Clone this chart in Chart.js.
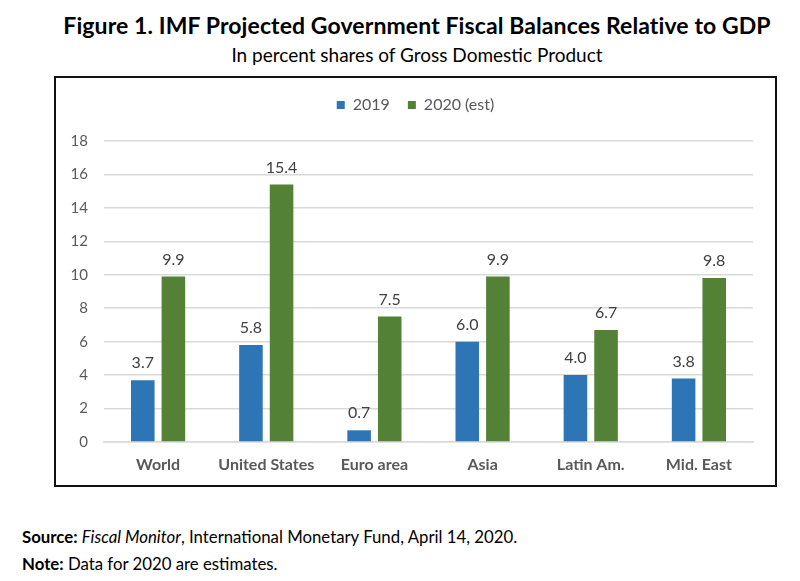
<!DOCTYPE html>
<html>
<head>
<meta charset="utf-8">
<script src="https://cdn.jsdelivr.net/npm/chart.js@4"></script>
<style>
body{margin:0;background:#fff;width:800px;height:581px;position:relative;overflow:hidden;font-family:Lato,sans-serif;color:#000;}
#title{position:absolute;left:0;width:834px;top:11px;text-align:center;font-size:23px;font-weight:bold;letter-spacing:0.1px;}
#sub{position:absolute;left:0;width:834px;top:43px;text-align:center;font-size:19px;}
#box{position:absolute;left:54px;top:76px;width:719px;height:407px;border:2px solid #111;}
#box canvas{position:absolute;left:0;top:0;}
.note{position:absolute;left:22px;font-size:16.8px;}
</style>
</head>
<body>
<div id="title">Figure 1. IMF Projected Government Fiscal Balances Relative to GDP</div>
<div id="sub">In percent shares of Gross Domestic Product</div>
<div id="box"><canvas id="c" width="719" height="407"></canvas></div>
<div class="note" style="top:526px"><b>Source:</b> <i>Fiscal Monitor</i>, International Monetary Fund, April 14, 2020.</div>
<div class="note" style="top:553px"><b>Note:</b> Data for 2020 are estimates.</div>
<script>
// DATA
const regions=["World","United States","Euro area","Asia","Latin Am.","Mid. East"];
const vals2019=[3.7,5.8,0.7,6.0,4.0,3.8];
const vals2020=[9.9,15.4,7.5,9.9,6.7,9.8];
const yTicks=[0,2,4,6,8,10,12,14,16,18];

// value labels above bars
const barLabels={
id:"barLabels",
afterDatasetsDraw(chart){
const ctx=chart.ctx;
ctx.save();
ctx.font="16px Lato";
ctx.fillStyle="#404040";
ctx.textAlign="center";
ctx.textBaseline="middle";
chart.data.datasets.forEach((ds,i)=>{
chart.getDatasetMeta(i).data.forEach((bar,j)=>{
ctx.fillText(ds.data[j].toFixed(1),bar.x,bar.y-17);
});
});
ctx.restore();
}
};

// extra room under legend
const legendGap={
id:"legendGap",
beforeInit(chart){
const fit=chart.legend.fit;
chart.legend.fit=function(){fit.bind(chart.legend)();this.height+=18;};
}
};

new Chart(document.getElementById("c"),{
type:"bar",
data:{
labels:regions,
datasets:[
{label:"2019",data:vals2019,backgroundColor:"#2e75b6"},
{label:"2020 (est)",data:vals2020,backgroundColor:"#538135"}
]
},
options:{
responsive:false,
animation:false,
categoryPercentage:0.566,
barPercentage:0.77,
layout:{padding:{top:1,right:0,left:0,bottom:0}},
plugins:{
legend:{
labels:{boxWidth:8,boxHeight:8,padding:18,color:"#595959",font:{family:"Lato",size:16}}
},
tooltip:{enabled:false}
},
scales:{
x:{
grid:{display:false},
border:{color:"#d9d9d9",width:1.5},
ticks:{color:"#595959",padding:5,font:{family:"Lato",size:16,weight:"bold"}},
afterFit(s){s.height=43;}
},
y:{
min:0,max:18,
afterBuildTicks(s){s.ticks=yTicks.map(v=>({value:v}));},
grid:{color:"#d9d9d9",lineWidth:1.5,drawTicks:false},
border:{display:false},
ticks:{color:"#595959",padding:16,font:{family:"Lato",size:15}},
afterFit(s){s.width=48;}
},
// empty right margin so the legend centres on the whole box
yRight:{
position:"right",
display:true,
grid:{display:false},
border:{display:false},
ticks:{display:false},
afterFit(s){s.width=22;}
}
}
},
plugins:[barLabels,legendGap]
});
</script>
</body>
</html>
